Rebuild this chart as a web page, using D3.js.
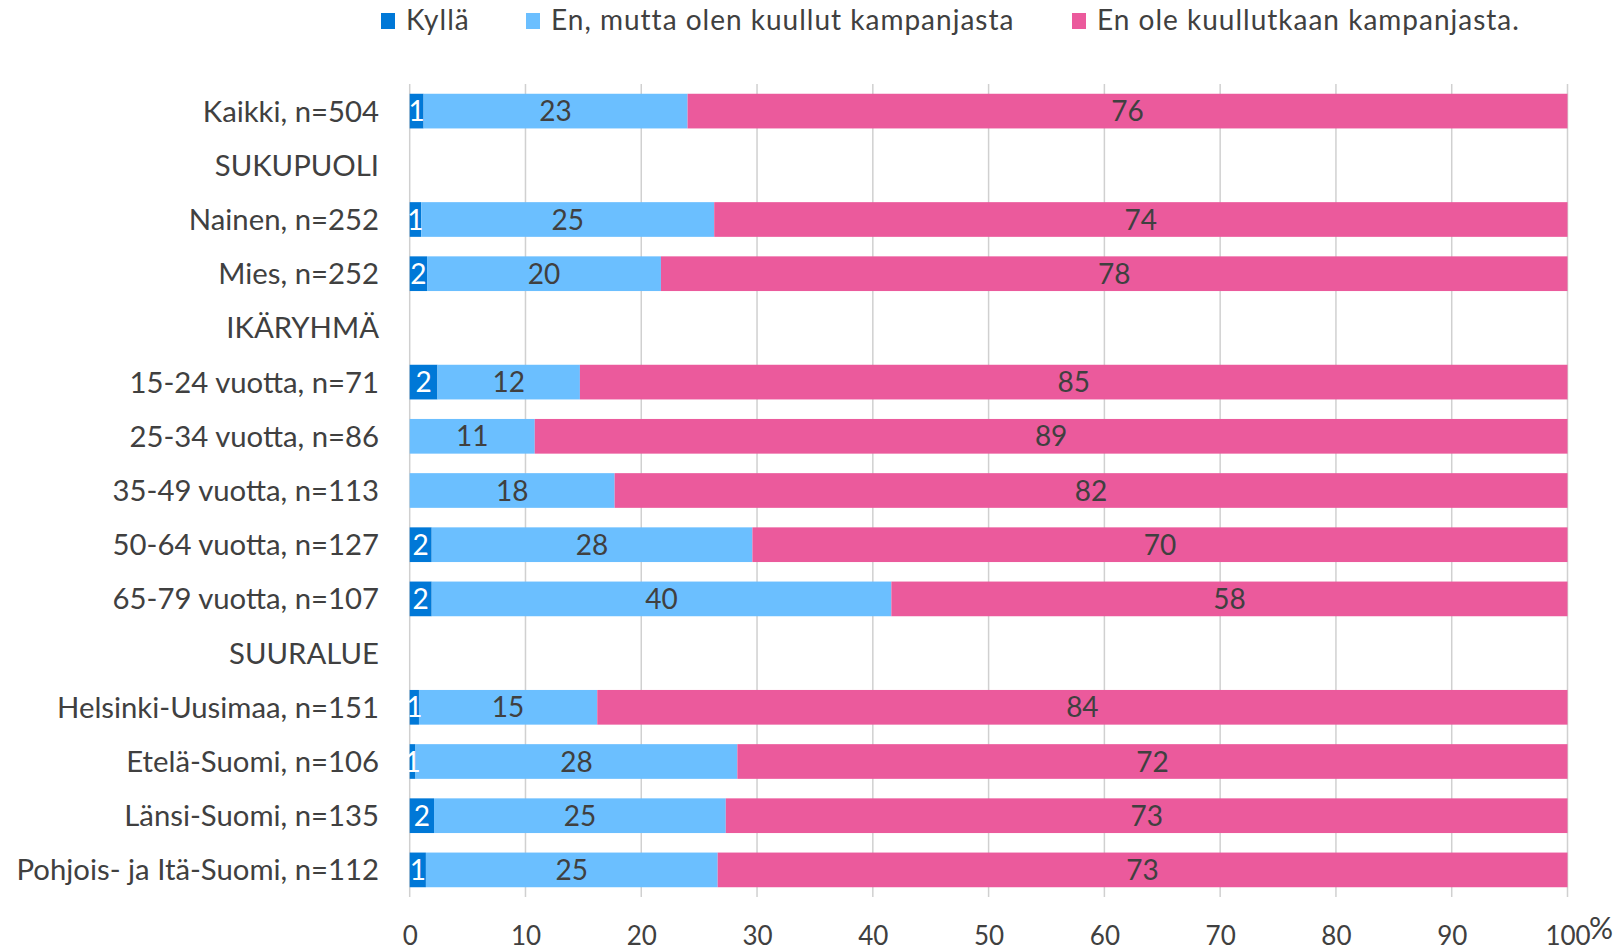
<!DOCTYPE html>
<html>
<head>
<meta charset="utf-8">
<script src="https://cdn.jsdelivr.net/npm/d3@7"></script>
<style>
  body { margin: 0; background: #ffffff; }
  svg text { font-family: Lato, "Open Sans", sans-serif; fill: #404040; }
</style>
</head>
<body>
<div id="chart"></div>
<script>
// DATA

const categories = [
  "Kaikki, n=504",
  "SUKUPUOLI",
  "Nainen, n=252",
  "Mies, n=252",
  "IKÄRYHMÄ",
  "15-24 vuotta, n=71",
  "25-34 vuotta, n=86",
  "35-49 vuotta, n=113",
  "50-64 vuotta, n=127",
  "65-79 vuotta, n=107",
  "SUURALUE",
  "Helsinki-Uusimaa, n=151",
  "Etelä-Suomi, n=106",
  "Länsi-Suomi, n=135",
  "Pohjois- ja Itä-Suomi, n=112"
];

const seriesNames = ["Kyllä", "En, mutta olen kuullut kampanjasta", "En ole kuullutkaan kampanjasta."];
const seriesColors = ["#0078d7", "#6bbfff", "#eb5a9c"];

const kylla   = [1.2, null, 1.0, 1.5, null, 2.4, 0, 0, 1.9, 1.9, null, 0.8, 0.5, 2.1, 1.4];
const enMutta = [22.8, null, 25.3, 20.2, null, 12.3, 10.8, 17.7, 27.7, 39.7, null, 15.4, 27.8, 25.2, 25.2];
const enOle   = [76.0, null, 73.7, 78.3, null, 85.3, 89.2, 82.3, 70.4, 58.4, null, 83.8, 71.7, 72.7, 73.4];

const xTicks = [0, 10, 20, 30, 40, 50, 60, 70, 80, 90, 100];

// LAYOUT

const width = 1624;
const height = 951;
const plot = {left: 409.7, right: 1567.5, top: 84, bottom: 897};

const svg = d3.select("#chart").append("svg")
  .attr("width", width)
  .attr("height", height);

const x = d3.scaleLinear()
  .domain([0, 100])
  .range([plot.left, plot.right]);

const y = d3.scaleBand()
  .domain(categories)
  .range([plot.top, plot.bottom])
  .paddingInner(0.36)
  .paddingOuter(0.18);

const color = d3.scaleOrdinal().domain(seriesNames).range(seriesColors);

// GRIDLINES

svg.append("g")
  .selectAll("line")
  .data(xTicks)
  .join("line")
  .attr("x1", d => x(d))
  .attr("x2", d => x(d))
  .attr("y1", plot.top)
  .attr("y2", plot.bottom)
  .attr("stroke", "#d0d0d0")
  .attr("stroke-width", 1.5);

// BARS

const rows = categories.map((c, i) => ({
  category: c,
  [seriesNames[0]]: kylla[i],
  [seriesNames[1]]: enMutta[i],
  [seriesNames[2]]: enOle[i]
})).filter(d => d[seriesNames[0]] != null);

const stacked = d3.stack().keys(seriesNames)(rows);

const layers = svg.append("g")
  .selectAll("g")
  .data(stacked)
  .join("g")
  .attr("fill", d => color(d.key));

layers.selectAll("rect")
  .data(d => d.filter(p => p[1] - p[0] > 0))
  .join("rect")
  .attr("x", d => x(d[0]))
  .attr("width", d => x(d[1]) - x(d[0]))
  .attr("y", d => y(d.data.category))
  .attr("height", y.bandwidth());

// BAR LABELS

svg.append("g")
  .selectAll("g")
  .data(stacked)
  .join("g")
  .selectAll("text")
  .data(d => d.filter(p => p[1] - p[0] > 0).map(p => ({p: p, key: d.key, index: d.index})))
  .join("text")
  .attr("x", d => x((d.p[0] + d.p[1]) / 2))
  .attr("y", d => y(d.p.data.category) + y.bandwidth() / 2)
  .attr("dy", "0.36em")
  .attr("text-anchor", "middle")
  .style("font-size", "28px")
  .style("fill", d => d.index == 0 ? "#ffffff" : "#404040")
  .text(d => Math.round(d.p[1] - d.p[0]));

// CATEGORY LABELS

svg.append("g")
  .selectAll("text")
  .data(categories)
  .join("text")
  .attr("x", 379)
  .attr("y", d => y(d) + y.bandwidth() / 2)
  .attr("dy", "0.36em")
  .attr("text-anchor", "end")
  .style("font-size", "29.3px")
  .text(d => d);

// X AXIS

const xAxis = svg.append("g")
  .attr("transform", `translate(0,${plot.bottom})`)
  .call(d3.axisBottom(x).tickValues(xTicks).tickSize(0).tickPadding(0));

xAxis.select(".domain").remove();
xAxis.selectAll("text")
  .attr("y", 39)
  .attr("dy", "0.36em")
  .style("font-size", "26px")
  .style("font-family", "Lato, 'Open Sans', sans-serif")
  .attr("fill", "#404040");

svg.append("text")
  .attr("x", 1589)
  .attr("y", 939)
  .style("font-size", "30px")
  .text("%");

// LEGEND

const legendX = [381, 526, 1072];

const legend = svg.append("g")
  .selectAll("g")
  .data(seriesNames)
  .join("g")
  .attr("transform", (d, i) => `translate(${legendX[i]},0)`);

legend.append("rect")
  .attr("x", 0)
  .attr("y", 13)
  .attr("width", 14)
  .attr("height", 16)
  .attr("fill", d => color(d));

legend.append("text")
  .attr("x", 25)
  .attr("y", 30)
  .style("font-size", "28px")
  .style("letter-spacing", "1px")
  .text(d => d);
</script>
</body>
</html>
